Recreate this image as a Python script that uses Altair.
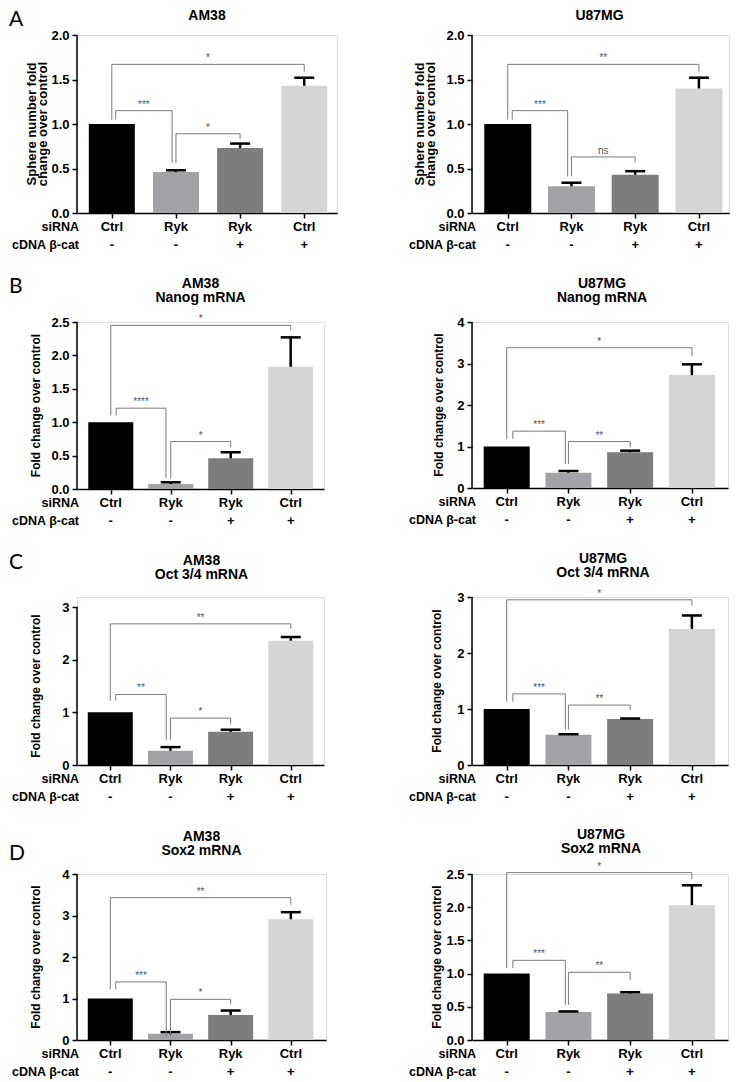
import altair as alt
import pandas as pd

FONT = "Liberation Sans"
LETTER_FONT = "Lato"

SIRNA = ["Ctrl", "Ryk", "Ryk", "Ctrl"]
BCAT = ["-", "-", "+", "+"]
BAR_COLORS = ["#000000", "#a3a3a7", "#7d7d7d", "#d5d5d5"]
GROUP_POS = [1, 2, 3, 4]

FOLD = ["Fold change over control"]
SPHERE = ["Sphere number fold", "change over control"]

# ---- A: sphere number ----
A1_TITLE = ["AM38"]
A1_MEAN = [1.00, 0.46, 0.73, 1.43]
A1_TOP = [None, 0.48, 0.78, 1.52]
A1_TICKS = [0.0, 0.5, 1.0, 1.5, 2.0]
A1_BRACKETS = [(1.00, 4.00, 1.67, 1.05, 1.59, "*"),
               (1.06, 1.94, 1.15, 1.05, 0.56, "***"),
               (2.00, 3.00, 0.89, 0.56, 0.83, "*")]

A2_TITLE = ["U87MG"]
A2_MEAN = [1.00, 0.30, 0.43, 1.40]
A2_TOP = [None, 0.34, 0.47, 1.52]
A2_TICKS = [0.0, 0.5, 1.0, 1.5, 2.0]
A2_BRACKETS = [(1.00, 4.00, 1.67, 1.05, 1.59, "**"),
               (1.07, 1.94, 1.15, 1.05, 0.41, "***"),
               (2.00, 3.00, 0.63, 0.41, 0.57, "ns")]

# ---- B: Nanog ----
B1_TITLE = ["AM38", "Nanog mRNA"]
B1_MEAN = [1.00, 0.075, 0.46, 1.83]
B1_TOP = [None, 0.10, 0.55, 2.27]
B1_TICKS = [0.0, 0.5, 1.0, 1.5, 2.0, 2.5]
B1_BRACKETS = [(1.00, 4.00, 2.45, 1.10, 2.37, "*"),
               (1.09, 1.92, 1.21, 1.10, 0.16, "****"),
               (2.00, 3.00, 0.71, 0.16, 0.62, "*")]

B2_TITLE = ["U87MG", "Nanog mRNA"]
B2_MEAN = [1.00, 0.37, 0.86, 2.72]
B2_TOP = [None, 0.41, 0.90, 2.98]
B2_TICKS = [0, 1, 2, 3, 4]
B2_BRACKETS = [(1.00, 4.00, 3.38, 1.18, 3.18, "*"),
               (1.10, 1.95, 1.37, 1.18, 0.58, "***"),
               (2.00, 3.00, 1.12, 0.58, 0.98, "**")]

# ---- C: Oct 3/4 ----
C1_TITLE = ["AM38", "Oct 3/4 mRNA"]
C1_MEAN = [1.00, 0.27, 0.63, 2.36]
C1_TOP = [None, 0.34, 0.67, 2.43]
C1_TICKS = [0, 1, 2, 3]
C1_BRACKETS = [(1.00, 4.00, 2.68, 1.22, 2.59, "**"),
               (1.09, 1.93, 1.34, 1.22, 0.48, "**"),
               (2.00, 3.00, 0.89, 0.48, 0.78, "*")]

C2_TITLE = ["U87MG", "Oct 3/4 mRNA"]
C2_MEAN = [1.00, 0.54, 0.82, 2.43]
C2_TOP = [None, 0.55, 0.83, 2.67]
C2_TICKS = [0, 1, 2, 3]
C2_BRACKETS = [(1.00, 4.00, 2.95, 1.13, 2.85, "*"),
               (1.10, 1.95, 1.27, 1.13, 0.63, "***"),
               (2.00, 3.00, 1.07, 0.63, 0.98, "**")]

# ---- D: Sox2 ----
D1_TITLE = ["AM38", "Sox2 mRNA"]
D1_MEAN = [1.00, 0.15, 0.60, 2.91]
D1_TOP = [None, 0.19, 0.71, 3.08]
D1_TICKS = [0, 1, 2, 3, 4]
D1_BRACKETS = [(1.00, 4.00, 3.43, 1.22, 3.26, "**"),
               (1.09, 1.93, 1.40, 1.22, 0.10, "***"),
               (2.00, 3.00, 0.98, 0.10, 0.86, "*")]

D2_TITLE = ["U87MG", "Sox2 mRNA"]
D2_MEAN = [1.00, 0.42, 0.70, 2.03]
D2_TOP = [None, 0.43, 0.72, 2.33]
D2_TICKS = [0.0, 0.5, 1.0, 1.5, 2.0, 2.5]
D2_BRACKETS = [(1.00, 4.00, 2.52, 1.08, 2.42, "*"),
               (1.10, 1.95, 1.20, 1.08, 0.53, "***"),
               (2.00, 3.00, 1.02, 0.53, 0.90, "**")]


def txt(t, x, y, size, weight="bold", align="center", angle=0, font=FONT):
    return alt.Chart(pd.DataFrame({"t": [t]})).mark_text(
        font=font, fontSize=size, fontWeight=weight, color="black",
        align=align, baseline="middle", angle=angle).encode(
        x=alt.value(x), y=alt.value(y), text="t:N")


def panel(title, ytitle, means, tops, ticks, yfmt, brackets, L):
    W, H = L["W"], L["H"]
    xs = alt.Scale(domain=L["xdom"], nice=False, zero=False)
    ys = alt.Scale(domain=L.get("ydom", [ticks[0], ticks[-1]]), nice=False, zero=False)
    xaxis = alt.Axis(values=GROUP_POS, labels=False, title=None, grid=False,
                     domainColor="black", domainWidth=1.5, tickColor="black",
                     tickWidth=1.5, tickSize=5)
    yaxis = alt.Axis(values=ticks, format=yfmt, title=None, grid=False,
                     domain=False, tickColor="black",
                     tickWidth=1.5, tickSize=5, labelPadding=3,
                     labelFont=FONT, labelFontSize=13, labelFontWeight="bold",
                     labelColor="black")

    def X(f):
        return alt.X(f, scale=xs, axis=xaxis)

    def Y(f):
        return alt.Y(f, scale=ys, axis=yaxis)

    df = pd.DataFrame({"pos": GROUP_POS, "mean": means, "color": BAR_COLORS,
                       "sirna": SIRNA, "bcat": BCAT})
    edf = pd.DataFrame([{"pos": p, "mean": m, "top": t}
                        for p, m, t in zip(GROUP_POS, means, tops) if t is not None])
    bdf = pd.DataFrame(brackets, columns=["x1", "x2", "y", "yl", "yr", "label"])
    bdf["xm"] = (bdf["x1"] + bdf["x2"]) / 2
    adf = pd.DataFrame({"lo": [ticks[0]], "hi": [ticks[-1]]})

    axis_line = alt.Chart(adf).mark_rule(color="black", strokeWidth=1.5).encode(
        x=alt.value(0), y=Y("lo:Q"), y2=alt.Y2("hi:Q"))
    bars = alt.Chart(df).mark_bar(size=L["barw"], orient="vertical").encode(
        x=X("pos:Q"), y=Y("mean:Q"), color=alt.Color("color:N", scale=None))
    err = alt.Chart(edf).mark_rule(color="black", strokeWidth=2.5).encode(
        x=X("pos:Q"), y=Y("mean:Q"), y2=alt.Y2("top:Q"))
    cap = alt.Chart(edf).mark_tick(orient="horizontal", size=20, thickness=2.5,
                                   color="black", opacity=1).encode(
        x=X("pos:Q"), y=Y("top:Q"))
    bcol = "#7a7a7a"
    hr = alt.Chart(bdf).mark_rule(color=bcol, strokeWidth=1).encode(
        x=X("x1:Q"), x2=alt.X2("x2:Q"), y=Y("y:Q"))
    ll = alt.Chart(bdf).mark_rule(color=bcol, strokeWidth=1).encode(
        x=X("x1:Q"), y=Y("y:Q"), y2=alt.Y2("yl:Q"))
    rl = alt.Chart(bdf).mark_rule(color=bcol, strokeWidth=1).encode(
        x=X("x2:Q"), y=Y("y:Q"), y2=alt.Y2("yr:Q"))
    lab = alt.Chart(bdf).mark_text(font=FONT, fontSize=10, color="#555555",
                                   baseline="alphabetic", dy=-3).encode(
        x=X("xm:Q"), y=Y("y:Q"), text="label:N")
    row1 = alt.Chart(df).mark_text(font=FONT, fontSize=13, fontWeight="bold",
                                   color="black", baseline="middle").encode(
        x=X("pos:Q"), y=alt.value(H + 14), text="sirna:N")
    row2 = alt.Chart(df).mark_text(font=FONT, fontSize=13, fontWeight="bold",
                                   color="black", baseline="middle").encode(
        x=X("pos:Q"), y=alt.value(H + 32), text="bcat:N")
    layers = [bars, axis_line, err, cap, hr, ll, rl, lab, row1, row2,
              txt("siRNA", L["ldx"], H + 14, 12.5, align="right"),
              txt("cDNA β-cat", L["ldx"], H + 32, 12.5, align="right")]
    for line, yy in zip(title, L["ty"]):
        layers.append(txt(line, W / 2 + L.get("tdx", 0), yy, 14))
    for line, xx in zip(ytitle, L["ytx"]):
        layers.append(txt(line, xx, H / 2 + L.get("yty", 0), L["yts"], angle=270))
    if "letter" in L:
        t, lx, ly = L["letter"]
        layers.append(txt(t, lx, ly, 21, weight="normal", align="left",
                          font=LETTER_FONT))
    return alt.layer(*layers).properties(width=W, height=H)


XD_R = [0.519, 4.504]
LA1 = dict(W=260, H=178, xdom=[0.535, 4.433], barw=46, ytx=[-45.5, -34], yts=13,
           ldx=2, ty=[-19], letter=("A", -68, -15))
LA2 = dict(W=257, H=178, xdom=[0.517, 4.394], barw=47, ytx=[-52, -41], yts=13,
           ldx=4, ty=[-19], tdx=-1)
LB1 = dict(W=247, H=167, xdom=[0.52, 4.472], barw=45, ytx=[-41], yts=12,
           ldx=2, ty=[-38.5, -24.5], letter=("B", -68, -35.5))
LB2 = dict(W=256, H=166, xdom=XD_R, barw=46, ytx=[-33], yts=12,
           ldx=4, ty=[-38, -24], tdx=2)
LC1 = dict(W=247, H=168, ydom=[0, 3.19], xdom=[0.53, 4.469], barw=45, ytx=[-41],
           yts=12, yty=5, ldx=2, ty=[-36.5, -22.5], tdx=1, letter=("C", -68, -34))
LC2 = dict(W=256, H=168, xdom=XD_R, barw=46, ytx=[-35], yts=12,
           ldx=4, ty=[-38, -24], tdx=3)
LD1 = dict(W=249, H=166, xdom=[0.53, 4.501], barw=45, ytx=[-41], yts=12,
           ldx=2, ty=[-37, -23], letter=("D", -68, -20))
LD2 = dict(W=256, H=166, xdom=XD_R, barw=46, ytx=[-35], yts=12,
           ldx=4, ty=[-39, -25], tdx=1)

pA1 = panel(A1_TITLE, SPHERE, A1_MEAN, A1_TOP, A1_TICKS, ".1f", A1_BRACKETS, LA1)
pA2 = panel(A2_TITLE, SPHERE, A2_MEAN, A2_TOP, A2_TICKS, ".1f", A2_BRACKETS, LA2)
pB1 = panel(B1_TITLE, FOLD, B1_MEAN, B1_TOP, B1_TICKS, ".1f", B1_BRACKETS, LB1)
pB2 = panel(B2_TITLE, FOLD, B2_MEAN, B2_TOP, B2_TICKS, "d", B2_BRACKETS, LB2)
pC1 = panel(C1_TITLE, FOLD, C1_MEAN, C1_TOP, C1_TICKS, "d", C1_BRACKETS, LC1)
pC2 = panel(C2_TITLE, FOLD, C2_MEAN, C2_TOP, C2_TICKS, "d", C2_BRACKETS, LC2)
pD1 = panel(D1_TITLE, FOLD, D1_MEAN, D1_TOP, D1_TICKS, "d", D1_BRACKETS, LD1)
pD2 = panel(D2_TITLE, FOLD, D2_MEAN, D2_TOP, D2_TICKS, ".1f", D2_BRACKETS, LD2)

rowA = alt.concat(pA1, pA2, columns=2, align="none", spacing=70)
rowB = alt.concat(pB1, pB2, columns=2, align="none", spacing=83)
rowC = alt.concat(pC1, pC2, columns=2, align="none", spacing=83)
rowD = alt.concat(pD1, pD2, columns=2, align="none", spacing=81)

chart = alt.concat(rowA, rowB, rowC, rowD, columns=1, align="none", spacing=22).properties(
    padding={"left": 0, "top": 0, "right": 0, "bottom": 0}
).configure_view(stroke=None).configure(background="white")

chart.save("out.html", embed_options={"renderer": "svg", "actions": False})
